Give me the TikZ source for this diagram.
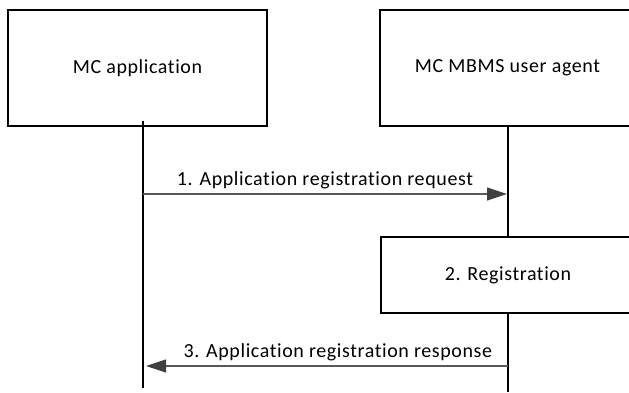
\documentclass[tikz,border=0pt]{standalone}
\usepackage{fontspec}
\setmainfont{Carlito}[LetterSpace=3,Ligatures={NoCommon}]
\usetikzlibrary{arrows.meta}

\begin{document}
\begin{tikzpicture}[x=1pt,y=1pt,
  entity/.style={draw=black,line width=1.4pt,fill=white,minimum height=116pt,inner sep=0pt},
  stepbox/.style={draw=black,line width=1.4pt,fill=white,minimum width=254pt,minimum height=76pt,inner sep=0pt},
  life/.style={draw=black,line width=1.2pt},
  msg/.style={draw=black!65,line width=1.2pt,-{Triangle[length=20pt,width=13pt,color=black!75]}},
  font=\fontsize{20}{24}\selectfont]
  \clip (0,0) rectangle (629,392);
  % entities
  \node[entity,minimum width=259pt] (app) at (137.5,324) {MC application};
  \node[entity,minimum width=255pt] (ua) at (507.5,324) {MC MBMS user agent};
  % lifelines
  \coordinate (appTop) at (143,271);
  \coordinate (appBot) at (143,4);
  \coordinate (uaBot) at (508,0);
  \node[stepbox] (reg) at (508,117) {2. Registration};
  \draw[life] (appTop) -- (appBot);
  \draw[life] (ua.south -| uaBot) -- (reg.north -| uaBot);
  \draw[life] (reg.south -| uaBot) -- (uaBot);
  % messages
  \coordinate (m1a) at (143,198);
  \coordinate (m1b) at (507,198);
  \coordinate (m3a) at (508,26);
  \coordinate (m3b) at (146,26);
  \draw[msg] (m1a) -- node[above=1pt] {1. Application registration request} (m1b);
  \draw[msg] (m3a) -- node[above=1pt,pos=0.47] {3. Application registration response} (m3b);
\end{tikzpicture}
\end{document}
